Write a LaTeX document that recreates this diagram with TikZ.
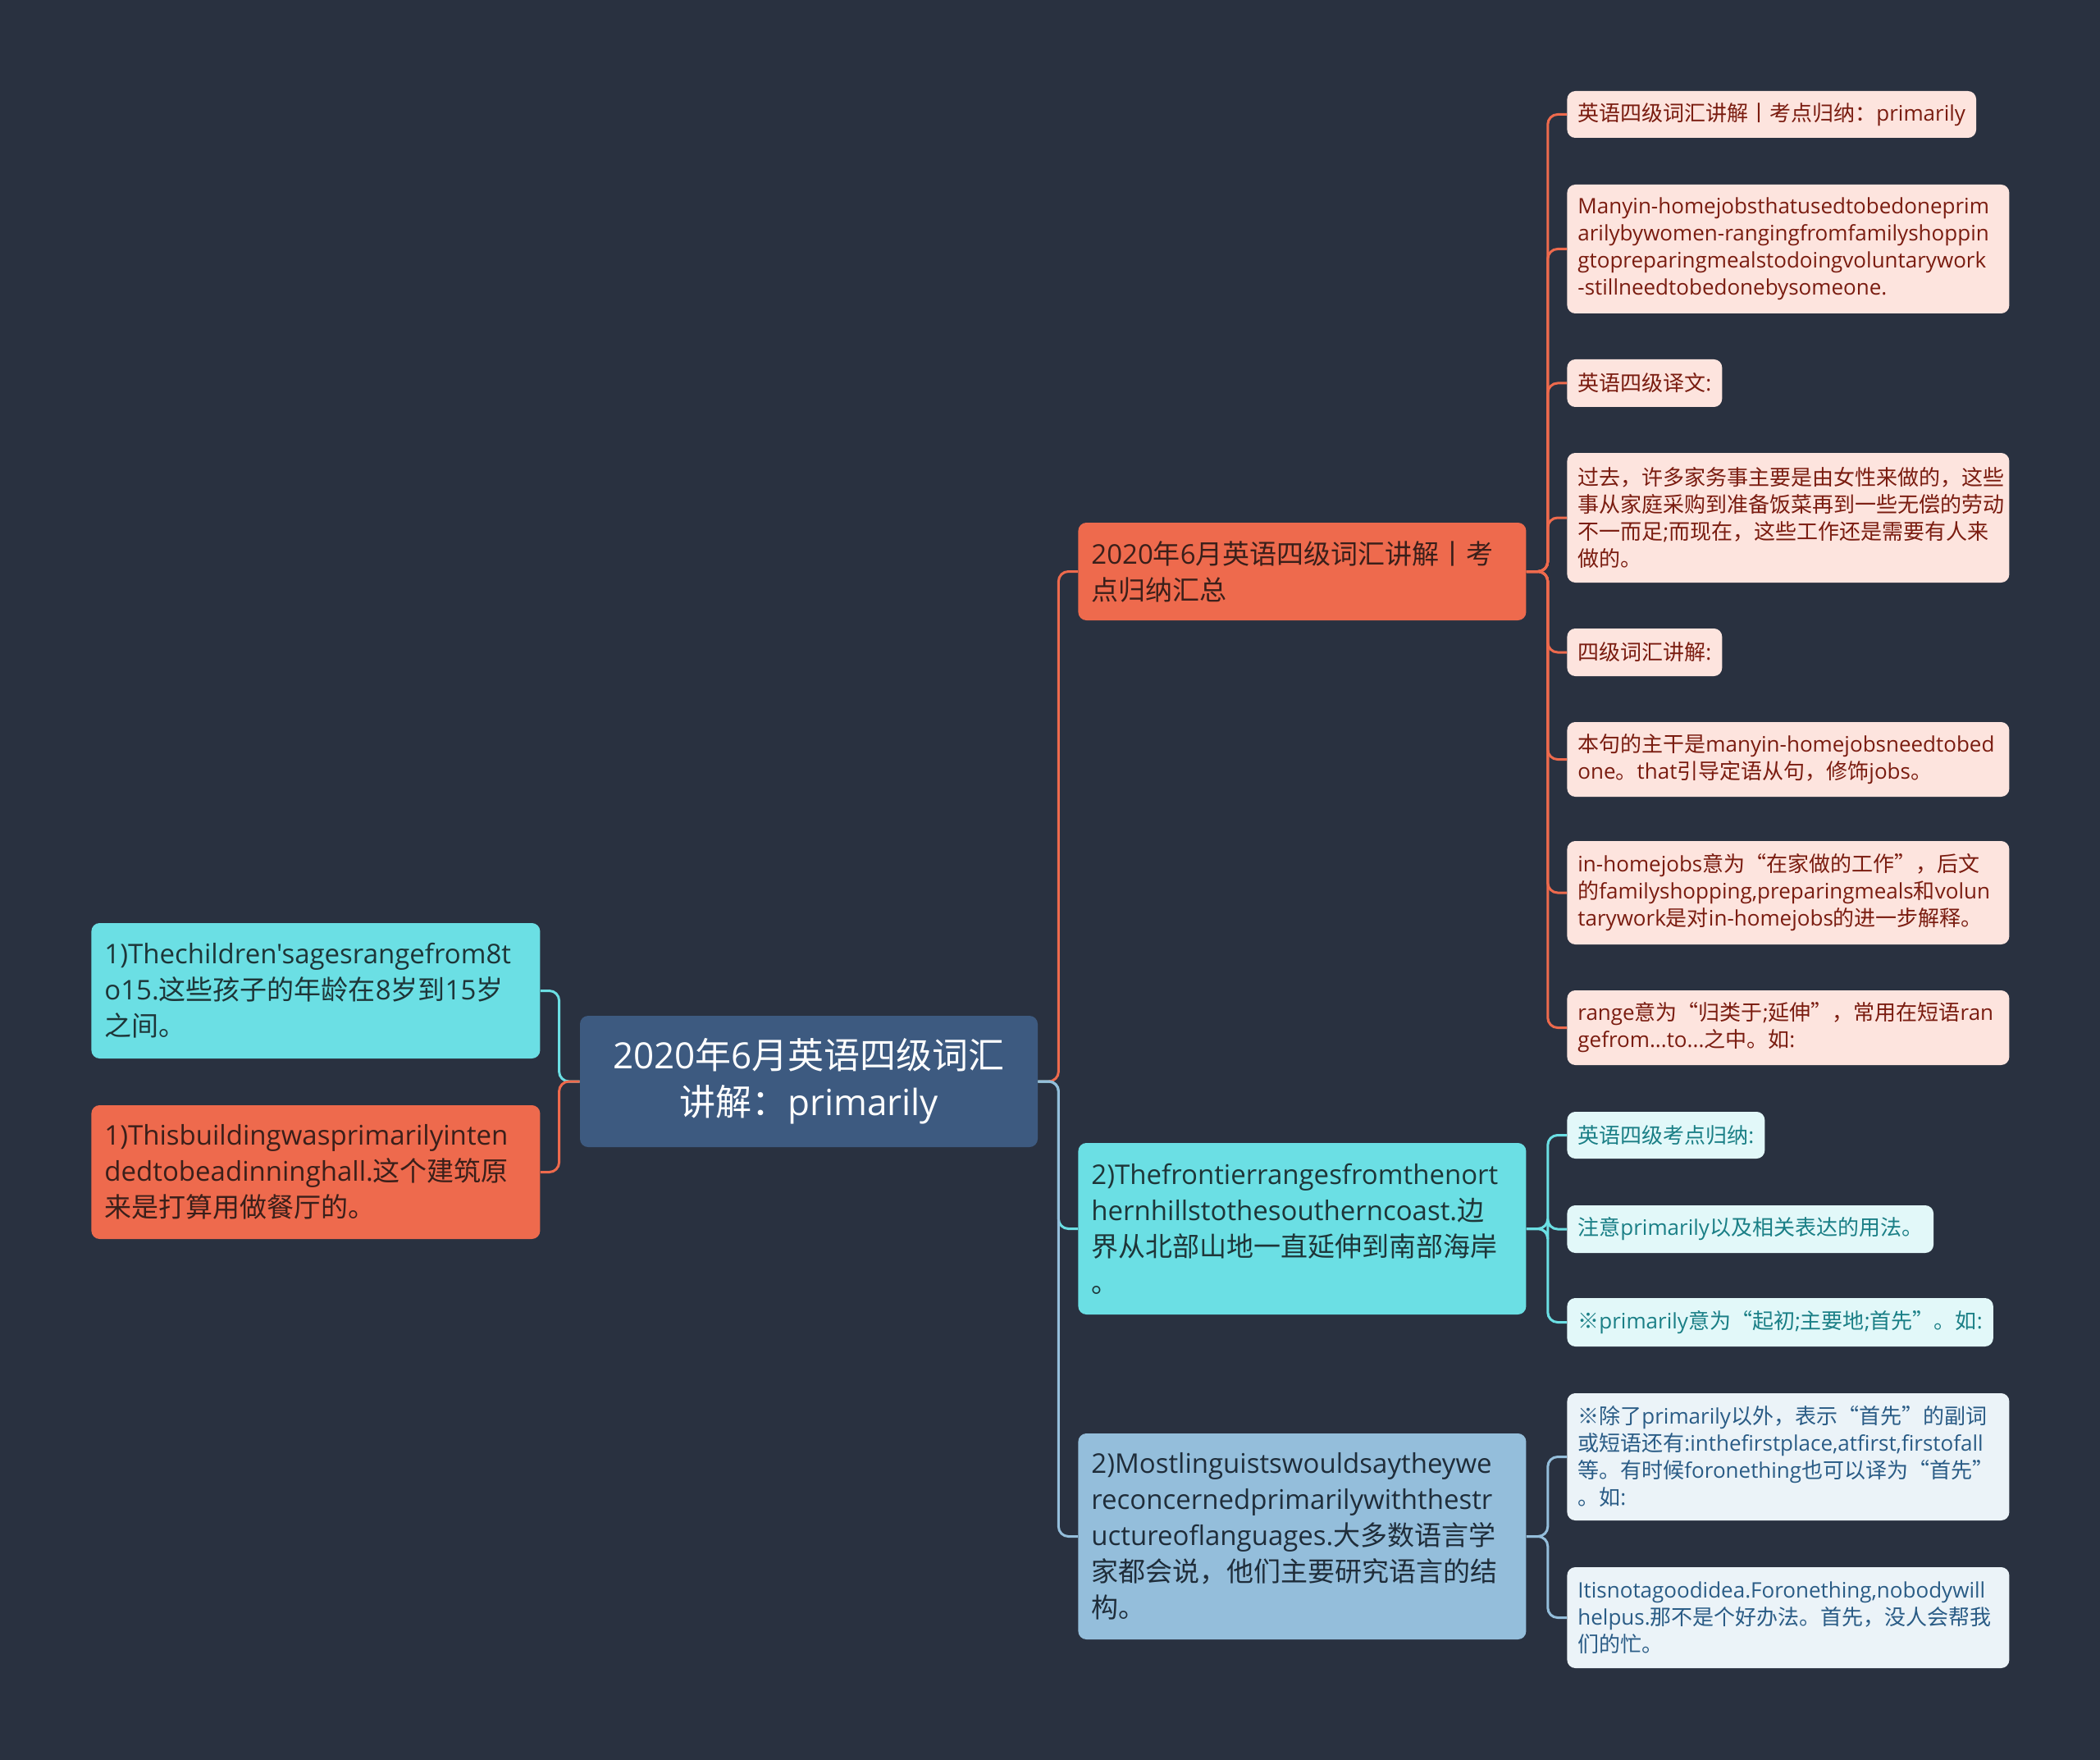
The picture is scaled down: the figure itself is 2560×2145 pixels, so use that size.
\documentclass[tikz,border=0pt]{standalone}
\usepackage{fontspec}
\newfontfamily\latinf{Open Sans}
\newfontfamily\cjk{Noto Sans CJK SC}
\XeTeXinterchartokenstate=1
\newXeTeXintercharclass\CJKcls
\newcount\mycc
\def\mysetcls#1#2{\mycc=#1\relax
  \loop
    \XeTeXcharclass\mycc=\CJKcls
    \ifnum\mycc<#2\relax
    \advance\mycc by 1
  \repeat}
\mysetcls{"4E00}{"9FFF}
\mysetcls{"3000}{"303F}
\mysetcls{"FF00}{"FFEF}
\mysetcls{"2018}{"201D}
\XeTeXcharclass"203B=\CJKcls
\XeTeXinterchartoks 0 \CJKcls = {\cjk}
\XeTeXinterchartoks 4095 \CJKcls = {\cjk}
\XeTeXinterchartoks \CJKcls 0 = {\latinf}
\XeTeXinterchartoks 4095 0 = {\latinf}
\newcommand\nohyph{\hyphenpenalty=10000\relax\exhyphenpenalty=10000\relax}
\definecolor{bg}{HTML}{293140}
\definecolor{rootF}{HTML}{3D5A80}
\definecolor{orgF}{HTML}{EE6A4D}
\definecolor{orgT}{HTML}{3A1F1A}
\definecolor{cyF}{HTML}{6BDFE4}
\definecolor{cyT}{HTML}{1E3538}
\definecolor{blF}{HTML}{94BEDB}
\definecolor{blT}{HTML}{1F2D3A}
\definecolor{loF}{HTML}{FDE4DE}
\definecolor{loT}{HTML}{7A1C10}
\definecolor{lcF}{HTML}{E2F8F9}
\definecolor{lcT}{HTML}{1A7F86}
\definecolor{lbF}{HTML}{EBF3F8}
\definecolor{lbT}{HTML}{2A5C86}
\begin{document}
\begin{tikzpicture}[x=0.5pt,y=-0.5pt,
  base/.style={rounded corners=5pt, inner ysep=0pt, align=left, anchor=west},
  lf/.style={base, inner xsep=6.5pt, font=\latinf\fontsize{13pt}{16.5pt}\selectfont\nohyph},
  lo/.style={lf, fill=loF, text=loT},
  lc/.style={lf, fill=lcF, text=lcT},
  lb/.style={lf, fill=lbF, text=lbT},
  wide/.style={text width=256.5pt},
  mn/.style={base, inner xsep=8pt, text width=257pt, font=\latinf\fontsize{16.5pt}{22pt}\selectfont\nohyph},
  rt/.style={rounded corners=5pt, fill=rootF, text=white, align=center, minimum width=279pt, minimum height=80pt, inner sep=0pt, font=\latinf\fontsize{22pt}{28.5pt}\selectfont},
  co/.style={line width=1.5pt, rounded corners=6pt},
]
\fill[bg] (0,0) rectangle (2560,2145);
\useasboundingbox (0,0) rectangle (2560,2145);

% root
\node[rt] (root) at (986,1318) {2020年6月英语四级词汇\\讲解：primarily};

% main branches
\node[mn, fill=orgF, text=orgT, minimum height=59.5pt] (m1) at (1314,696.5) {2020年6月英语四级词汇讲解丨考\\点归纳汇总};
\node[mn, fill=cyF, text=cyT, minimum height=104.5pt] (m2) at (1314,1497.5) {2)Thefrontierrangesfromthenort\\hernhillstothesoutherncoast.边\\界从北部山地一直延伸到南部海岸\\。};
\node[mn, fill=blF, text=blT, minimum height=125.5pt] (m3) at (1314,1872.5) {2)Mostlinguistswouldsaytheywe\\reconcernedprimarilywiththestr\\uctureoflanguages.大多数语言学\\家都会说，他们主要研究语言的结\\构。};
\node[mn, fill=cyF, text=cyT, minimum height=82.5pt, text width=257.5pt] (l1) at (111,1207.5) {1)Thechildren'sagesrangefrom8t\\o15.这些孩子的年龄在8岁到15岁\\之间。};
\node[mn, fill=orgF, text=orgT, minimum height=81.5pt, text width=257.5pt] (l2) at (111,1428.5) {1)Thisbuildingwasprimarilyinten\\dedtobeadinninghall.这个建筑原\\来是打算用做餐厅的。};

% orange leaves
\node[lo, minimum height=28.5pt] (a1) at (1910,139.5) {英语四级词汇讲解丨考点归纳：primarily};
\node[lo, wide, minimum height=78.5pt] (a2) at (1910,303.5) {Manyin-homejobsthatusedtobedoneprim\\arilybywomen-rangingfromfamilyshoppin\\gtopreparingmealstodoingvoluntarywork\\-stillneedtobedonebysomeone.};
\node[lo, minimum height=29pt] (a3) at (1910,467) {英语四级译文:};
\node[lo, wide, minimum height=79pt] (a4) at (1910,631) {过去，许多家务事主要是由女性来做的，这些\\事从家庭采购到准备饭菜再到一些无偿的劳动\\不一而足;而现在，这些工作还是需要有人来\\做的。};
\node[lo, minimum height=29pt] (a5) at (1910,795) {四级词汇讲解:};
\node[lo, wide, minimum height=45.5pt] (a6) at (1910,925.5) {本句的主干是manyin-homejobsneedtobed\\one。that引导定语从句，修饰jobs。};
\node[lo, wide, minimum height=63pt] (a7) at (1910,1088) {in-homejobs意为“在家做的工作”，后文\\的familyshopping,preparingmeals和volun\\tarywork是对in-homejobs的进一步解释。};
\node[lo, wide, minimum height=45.5pt] (a8) at (1910,1252.5) {range意为“归类于;延伸”，常用在短语ran\\gefrom...to...之中。如:};

% cyan leaves
\node[lc, minimum height=28.5pt] (b1) at (1910,1383.5) {英语四级考点归纳:};
\node[lc, minimum height=29pt] (b2) at (1910,1498) {注意primarily以及相关表达的用法。};
\node[lc, minimum height=29.5pt] (b3) at (1910,1611.5) {※primarily意为“起初;主要地;首先”。如:};

% blue leaves
\node[lb, wide, minimum height=77.5pt] (c1) at (1910,1775.5) {※除了primarily以外，表示“首先”的副词\\或短语还有:inthefirstplace,atfirst,firstofall\\等。有时候foronething也可以译为“首先”\\。如:};
\node[lb, wide, minimum height=61.5pt] (c2) at (1910,1971.5) {Itisnotagoodidea.Foronething,nobodywill\\helpus.那不是个好办法。首先，没人会帮我\\们的忙。};

% connectors root
\draw[co, orgF] (root.east) -- ++(25,0) |- (m1.west);
\draw[co, cyF] (root.east) -- ++(25,0) |- (m2.west);
\draw[co, blF] (root.east) -- ++(25,0) |- (m3.west);
\draw[co, cyF] (root.west) -- ++(-25,0) |- (l1.east);
\draw[co, orgF] (root.west) -- ++(-25,0) |- (l2.east);

% connectors to leaves
\foreach \t in {a1,a2,a3,a4,a5,a6,a7,a8}
  \draw[co, orgF] (m1.east) -- ++(26,0) |- (\t.west);
\foreach \t in {b1,b2,b3}
  \draw[co, cyF] (m2.east) -- ++(26,0) |- (\t.west);
\foreach \t in {c1,c2}
  \draw[co, blF] (m3.east) -- ++(26,0) |- (\t.west);
\end{tikzpicture}
\end{document}
